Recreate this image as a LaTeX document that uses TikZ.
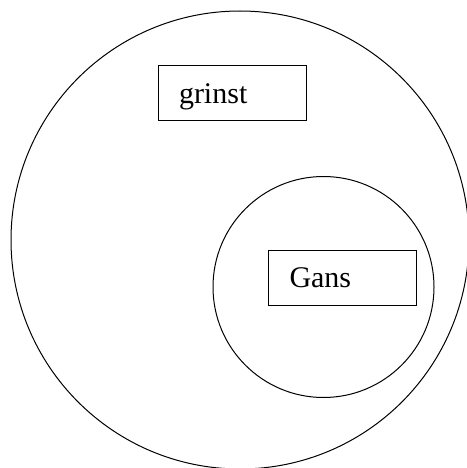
\documentclass[tikz,border=0pt]{standalone}
\usepackage{fontspec}
\setmainfont{Liberation Serif}
\usetikzlibrary{positioning}

\begin{document}
\begin{tikzpicture}[x=1pt, y=-1pt, line width=1pt,
    every node/.style={inner sep=0pt},
    setcircle/.style={draw, circle},
    namebox/.style={draw, rectangle, minimum width=148pt, minimum height=55pt,
        text width=106pt, inner xsep=21pt, align=left, text height=20pt, text depth=0pt,
        font=\fontsize{30}{36}\selectfont}]
    \useasboundingbox (0,0) rectangle (466,468);
    % Sets drawn as circles
    \node[setcircle, minimum size=458pt] (outer) at (240,240) {};
    \node[setcircle, minimum size=221pt] (inner) at (323.5,287) {};
    
    % Labels in boxes
    \node[namebox] (grinst) at (232,93.5) {grinst};
    \node[namebox] (gans) at (342.5,277.5) {Gans};
\end{tikzpicture}
\end{document}
